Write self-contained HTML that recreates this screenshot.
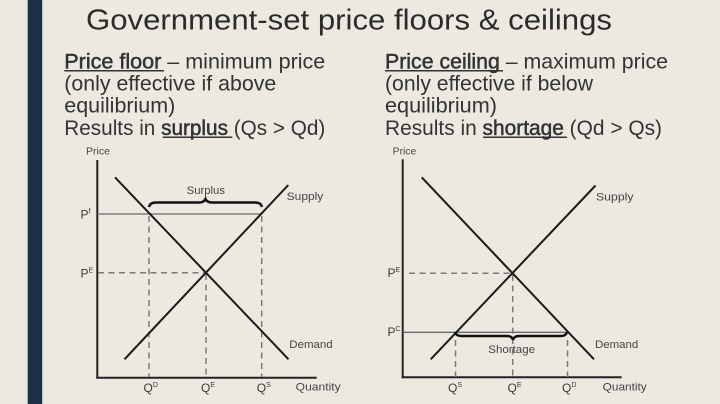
<!DOCTYPE html>
<html><head><meta charset="utf-8">
<style>
html,body{margin:0;padding:0;background:#ece9e1;}
svg{display:block;}
text{font-family:"Liberation Sans",sans-serif;}
</style></head>
<body>
<svg width="720" height="404" viewBox="0 0 720 404" xmlns="http://www.w3.org/2000/svg">
<rect x="0" y="0" width="720" height="404" fill="#ece9e1"/>
<rect x="27.7" y="0" width="14.5" height="404" fill="#1b2f45"/>
<rect x="42.2" y="0" width="1" height="404" fill="#c9ccd6"/>

<!-- Title -->
<text x="86" y="29.5" font-size="29" fill="#2b2b2b" textLength="526" lengthAdjust="spacingAndGlyphs">Government-set price floors &amp; ceilings</text>

<!-- Column text -->
<g font-size="21" fill="#333">
<text x="64.3" y="68.3" textLength="261" lengthAdjust="spacingAndGlyphs"><tspan stroke="#333" stroke-width="0.5">Price floor </tspan>– minimum price</text>
<text x="64.3" y="90.7" textLength="212" lengthAdjust="spacingAndGlyphs">(only effective if above</text>
<text x="64.3" y="112.7" textLength="111" lengthAdjust="spacingAndGlyphs">equilibrium)</text>
<text x="64.3" y="135" textLength="261" lengthAdjust="spacingAndGlyphs">Results in <tspan stroke="#333" stroke-width="0.5">surplus</tspan> (Qs &gt; Qd)</text>

<text x="385" y="68.3" textLength="283" lengthAdjust="spacingAndGlyphs"><tspan stroke="#333" stroke-width="0.5">Price ceiling </tspan>– maximum price</text>
<text x="385" y="90.7" textLength="208" lengthAdjust="spacingAndGlyphs">(only effective if below</text>
<text x="385" y="112.7" textLength="112" lengthAdjust="spacingAndGlyphs">equilibrium)</text>
<text x="385" y="135" textLength="277" lengthAdjust="spacingAndGlyphs">Results in <tspan stroke="#333" stroke-width="0.5">shortage</tspan> (Qd &gt; Qs)</text>
</g>
<g stroke="#333" stroke-width="1.5">
<line x1="64.3" y1="70.8" x2="164" y2="70.8"/>
<line x1="162.7" y1="137.3" x2="232.3" y2="137.3"/>
<line x1="385" y1="70.8" x2="503" y2="70.8"/>
<line x1="483" y1="137.3" x2="567" y2="137.3"/>
</g>

<!-- LEFT CHART -->
<g fill="#444" font-size="11">
<text x="86" y="154.5" font-size="10" textLength="24" lengthAdjust="spacingAndGlyphs">Price</text>
<text x="186.7" y="193.8" textLength="38.3" lengthAdjust="spacingAndGlyphs">Surplus</text>
<text x="286.7" y="199.8" textLength="36.6" lengthAdjust="spacingAndGlyphs">Supply</text>
<text x="289.3" y="348" textLength="43.4" lengthAdjust="spacingAndGlyphs">Demand</text>
<text x="295.7" y="390.5" textLength="45" lengthAdjust="spacingAndGlyphs">Quantity</text>
</g>
<g fill="#3a3a3a" font-size="12">
<text x="80.5" y="218.5">P<tspan font-size="7" dy="-5">f</tspan></text>
<text x="80.5" y="277.3">P<tspan font-size="7" dy="-5">E</tspan></text>
<text x="143.5" y="392">Q<tspan font-size="7" dy="-5">D</tspan></text>
<text x="201" y="392">Q<tspan font-size="7" dy="-5">E</tspan></text>
<text x="256.8" y="392">Q<tspan font-size="7" dy="-5">S</tspan></text>
</g>
<g fill="none">
<line x1="97.3" y1="160" x2="97.3" y2="378.6" stroke="#222" stroke-width="2"/>
<line x1="96.3" y1="377.7" x2="316.7" y2="377.7" stroke="#222" stroke-width="2"/>
<line x1="97.3" y1="214" x2="262" y2="214" stroke="#6a6a6a" stroke-width="1.3"/>
<g stroke="#7a7a7a" stroke-width="1.5" stroke-dasharray="6 4.5">
<line x1="98" y1="272.7" x2="206" y2="272.7"/>
<line x1="149" y1="216" x2="149" y2="377"/>
<line x1="206" y1="274" x2="206" y2="377"/>
<line x1="261.7" y1="216" x2="261.7" y2="377"/>
</g>
<line x1="115" y1="177.3" x2="288.5" y2="359.3" stroke="#1a1a1a" stroke-width="2"/>
<line x1="124.5" y1="359.3" x2="288.3" y2="185" stroke="#1a1a1a" stroke-width="2"/>
<path d="M149,207 Q150,202.5 156,202.5 L199,202.5 Q204,202.5 205.5,199 Q207,202.5 212,202.5 L255,202.5 Q261,202.5 262,207" stroke="#111" stroke-width="2.5"/>
</g>

<!-- RIGHT CHART -->
<g fill="#444" font-size="11">
<text x="392.7" y="154.5" font-size="10" textLength="23.5" lengthAdjust="spacingAndGlyphs">Price</text>
<text x="596" y="200.5" textLength="37.5" lengthAdjust="spacingAndGlyphs">Supply</text>
<text x="595" y="348" textLength="43.3" lengthAdjust="spacingAndGlyphs">Demand</text>
<text x="488.3" y="353" textLength="46.7" lengthAdjust="spacingAndGlyphs">Shortage</text>
<text x="602.7" y="390.5" textLength="44" lengthAdjust="spacingAndGlyphs">Quantity</text>
</g>
<g fill="#3a3a3a" font-size="12">
<text x="387.5" y="277">P<tspan font-size="7" dy="-5">E</tspan></text>
<text x="387.5" y="336">P<tspan font-size="7" dy="-5">C</tspan></text>
<text x="448" y="392">Q<tspan font-size="7" dy="-5">S</tspan></text>
<text x="507.5" y="392">Q<tspan font-size="7" dy="-5">E</tspan></text>
<text x="562" y="392">Q<tspan font-size="7" dy="-5">D</tspan></text>
</g>
<g fill="none">
<line x1="402.7" y1="159.3" x2="402.7" y2="378.3" stroke="#222" stroke-width="2"/>
<line x1="401.7" y1="377.3" x2="621.7" y2="377.3" stroke="#222" stroke-width="2"/>
<line x1="402.7" y1="332.3" x2="568" y2="332.3" stroke="#6a6a6a" stroke-width="1.3"/>
<g stroke="#7a7a7a" stroke-width="1.5" stroke-dasharray="6 4.5">
<line x1="409" y1="273.3" x2="512.7" y2="273.3"/>
<line x1="455.5" y1="340" x2="455.5" y2="377"/>
<line x1="512.7" y1="275" x2="512.7" y2="377"/>
<line x1="567.5" y1="340" x2="567.5" y2="377"/>
</g>
<line x1="421.7" y1="177.3" x2="594" y2="359.3" stroke="#1a1a1a" stroke-width="2"/>
<line x1="430.7" y1="359.3" x2="595.5" y2="185.5" stroke="#1a1a1a" stroke-width="2"/>
<path d="M455,332 Q456,336 462,336 L507,336 Q512,336 513,340 Q514,336 519,336 L561,336 Q566,336 567,332" stroke="#111" stroke-width="2.5"/>
</g>
</svg>
</body></html>
